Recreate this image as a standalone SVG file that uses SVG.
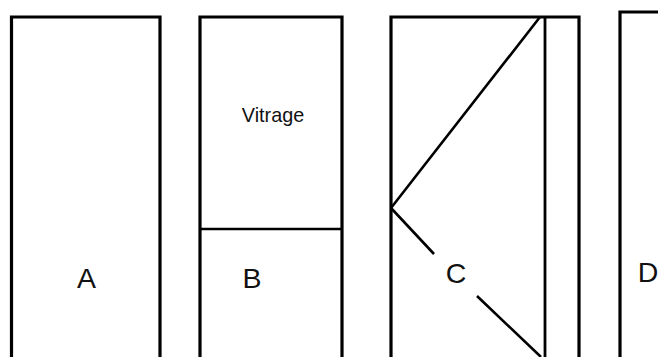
<svg xmlns="http://www.w3.org/2000/svg" width="658" height="357" viewBox="0 0 658 357">
<style>
.s{fill:none;stroke:#000;stroke-width:3.2}
.c{fill:none;stroke:#000;stroke-width:2.6}
text{font-family:"Liberation Sans",Arial,sans-serif;fill:#111;text-anchor:middle}
.l{font-size:28.500px}
</style>
<rect width="658" height="357" fill="#fff"/>
<g id="door-a"><path class="s" d="M11.500 357V17H160V357"/><text class="l" x="86.500" y="288">A</text></g>
<g id="door-b"><path class="s" d="M200 357V17H342V357"/><path d="M200 229H342" fill="none" stroke="#000" stroke-width="2.600"/><text x="273" y="122" font-size="19.800">Vitrage</text><text class="l" x="252" y="288">B</text></g>
<g id="door-c"><path class="s" d="M391 357V17H579V357"/><path d="M545 17V357" fill="none" stroke="#000" stroke-width="2.800"/><text class="l" x="456" y="283">C</text></g>
<g id="door-d"><path class="s" d="M620 357V12H658"/><text class="l" x="648" y="281.500">D</text></g>
<g id="connectors"><path class="c" d="M391 208L540 17M391 208L434 254M477 296L541 357"/></g>
</svg>
